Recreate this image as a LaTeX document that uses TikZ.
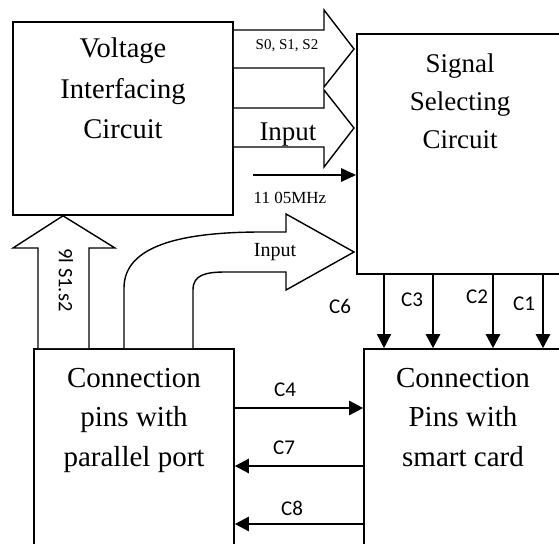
\documentclass[tikz,border=0pt]{standalone}
\usepackage{fontspec}
\setmainfont{Liberation Serif}
\newfontfamily\calfont{Carlito}
\usetikzlibrary{arrows.meta}
\begin{document}
\begin{tikzpicture}[x=1pt,y=-1pt,
  box/.style={draw,line width=1.6pt,inner sep=0pt},
  bigtxt/.style={anchor=base,inner sep=0pt,font=\fontsize{28.5}{28.5}\selectfont},
  contxt/.style={anchor=base,inner sep=0pt,font=\fontsize{29}{29}\selectfont},
  clab/.style={inner sep=0pt,font=\calfont\fontsize{21}{21}\selectfont},
  hollow/.style={draw,line width=1.4pt,line join=miter,fill=white},
  carrow/.style={line width=2.5pt,-{Triangle[length=14pt,width=14pt]}},
  thinarrow/.style={line width=1.3pt,-{Triangle[length=14pt,width=14pt]}}]
\clip (0,0) rectangle (559,543);
\fill[white] (0,0) rectangle (559,543);
% boxes
\node[box,minimum width=220pt,minimum height=193pt] (vic) at (123,118.5) {};
\node[box,minimum width=223pt,minimum height=240pt] (sig) at (468.5,154) {};
\node[box,minimum width=200pt,minimum height=211pt] (par) at (134,454.5) {};
\node[box,minimum width=216pt,minimum height=211pt] (card) at (472,454.5) {};
% box texts
\node[bigtxt] (v1) at (123,58) {Voltage};
\node[bigtxt] (v2) at (123,98) {Interfacing};
\node[bigtxt] (v3) at (123,138) {Circuit};
\node[bigtxt,font=\fontsize{27}{27}\selectfont] (s1) at (460,73) {Signal};
\node[bigtxt,font=\fontsize{27}{27}\selectfont] (s2) at (460,110) {Selecting};
\node[bigtxt,font=\fontsize{27}{27}\selectfont] (s3) at (460,148) {Circuit};
\node[contxt] (p1) at (134,387) {Connection};
\node[contxt] (p2) at (134,426) {pins with};
\node[contxt] (p3) at (134,466) {parallel port};
\node[contxt] (k1) at (463,387) {Connection};
\node[contxt] (k2) at (463,426) {Pins with};
\node[contxt] (k3) at (463,466) {smart card};
% hollow arrow S0,S1,S2
\draw[hollow] (vic.east |- 0,30) -- (324,30) -- (324,10) -- (354,49) -- (324,87) -- (324,68) -- (vic.east |- 0,68);
\node[inner sep=0pt,font=\fontsize{15}{15}\selectfont] (sl) at (287,46) {S0, S1, S2};
% hollow arrow Input (top)
\draw[hollow] (vic.east |- 0,108) -- (324,108) -- (324,90) -- (354,128) -- (324,167) -- (324,147) -- (vic.east |- 0,147);
\node[anchor=base,inner sep=0pt,font=\fontsize{27}{27}\selectfont] (in1) at (288,140) {Input};
% clock arrow
\coordinate (clk) at (253,175);
\draw[line width=2.6pt,-{Triangle[length=15pt,width=13pt]}] (clk) -- (clk -| sig.west);
\node[inner sep=0pt,font=\fontsize{17}{17}\selectfont] (clkl) at (290,198) {11 05MHz};
% hollow arrow up
\draw[hollow] (38,0 |- par.north) -- (38,248) -- (13,248) -- (63,0 |- vic.south) -- (115,248) -- (89,248) -- (89,0 |- par.north);
\node[inner sep=0pt,rotate=-90,font=\calfont\fontsize{20.5}{20.5}\selectfont] (upl) at (66,280) {9l S1.s2};
% curved hollow arrow Input
\draw[hollow] (124,0 |- par.north) -- (124,288) .. controls (124,246) and (180,232) .. (262,232) -- (286,232) -- (286,214) -- (354,252) -- (286,290) -- (286,272) -- (226,272) .. controls (205,272) and (193,275) .. (193,290) -- (193,0 |- par.north);
\node[inner sep=0pt,font=\fontsize{20}{20}\selectfont] (in2) at (275,252) {Input};
% C arrows down
\coordinate (x6) at (384,0);
\coordinate (x3) at (433,0);
\coordinate (x2) at (493,0);
\coordinate (x1) at (543,0);
\draw[thinarrow] (x6 |- sig.south) -- (x6 |- card.north);
\draw[carrow] (x3 |- sig.south) -- (x3 |- card.north);
\draw[carrow] (x2 |- sig.south) -- (x2 |- card.north);
\draw[carrow] (x1 |- sig.south) -- (x1 |- card.north);
\node[clab] (c6) at (340,306) {C6};
\node[clab] (c3) at (412,300) {C3};
\node[clab] (c2) at (477,297) {C2};
\node[clab] (c1) at (524,304) {C1};
% horizontal arrows
\coordinate (y4) at (0,408);
\coordinate (y7) at (0,466);
\coordinate (y8) at (0,524);
\draw[carrow] (par.east |- y4) -- (card.west |- y4);
\draw[carrow] (card.west |- y7) -- (par.east |- y7);
\draw[carrow] (card.west |- y8) -- (par.east |- y8);
\node[clab] (c4) at (285,390) {C4};
\node[clab] (c7) at (284,448) {C7};
\node[clab] (c8) at (292,508) {C8};
\end{tikzpicture}
\end{document}
